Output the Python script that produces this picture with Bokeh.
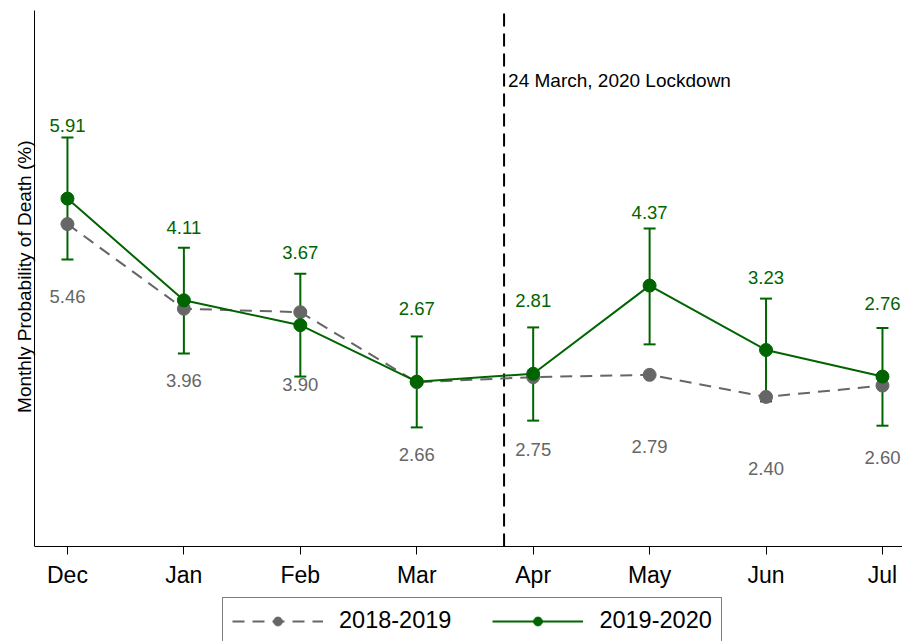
from bokeh.plotting import figure
from bokeh.models import (ColumnDataSource, Whisker, TeeHead, Label, Legend,
                          LegendItem, FixedTicker, Range1d, Title)
from bokeh.core.properties import value
from bokeh.embed import file_html
from bokeh.resources import INLINE

months = ["Dec", "Jan", "Feb", "Mar", "Apr", "May", "Jun", "Jul"]
idx = list(range(len(months)))
p1819 = [5.46, 3.96, 3.90, 2.66, 2.75, 2.79, 2.40, 2.60]
p1920 = [5.91, 4.11, 3.67, 2.67, 2.81, 4.37, 3.23, 2.76]
ci_lower = [4.83, 3.17, 2.76, 1.86, 1.98, 3.33, 2.32, 1.89]
ci_upper = [6.99, 5.04, 4.58, 3.47, 3.63, 5.38, 4.14, 3.62]
lockdown_x = [3.75]  # 24 March, between Mar and Apr
lockdown_text = "24 March, 2020 Lockdown"
lockdown_y = 8.0
y_title = "Monthly Probability of Death (%)"

# axis extents (value units)
Y_AXIS_LO, Y_AXIS_HI = -0.248, 9.24
Y_VIEW_LO = -1.93     # extra room below the axis for the tick labels & legend

FONT = "Liberation Sans"
GREEN = "#006400"
GRAY = "#666666"

src = ColumnDataSource(dict(
    x=idx, a=p1819, b=p1920, lo=ci_lower, hi=ci_upper,
    ta=[f"{v:.2f}" for v in p1819], tb=[f"{v:.2f}" for v in p1920],
))

p = figure(frame_width=868, frame_height=631, output_backend="svg", toolbar_location=None,
           x_range=Range1d(-0.283, 7.172), y_range=Range1d(Y_VIEW_LO, Y_AXIS_HI),
           min_border_left=34, min_border_right=0, min_border_top=10, min_border_bottom=0)
p.outline_line_color = None
p.xgrid.visible = False
p.ygrid.visible = False
p.background_fill_color = "white"
p.border_fill_color = "white"

# x axis (drawn at the bottom of the value area)
p.xaxis.fixed_location = Y_AXIS_LO
p.xaxis.ticker = FixedTicker(ticks=idx)
p.xaxis.major_label_overrides = {i: m for i, m in enumerate(months)}
p.xaxis.major_label_text_font = FONT
p.xaxis.major_label_text_font_size = "23px"
p.xaxis.major_label_text_color = "black"
p.xaxis.major_tick_out = 8
p.xaxis.major_tick_in = 0
p.xaxis.minor_tick_out = 0
p.xaxis.minor_tick_in = 0
p.xaxis.major_label_standoff = 8
p.xaxis.axis_line_color = "black"
p.xaxis.major_tick_line_color = "black"

# y axis: line only, spanning the value area
p.yaxis.bounds = (Y_AXIS_LO, Y_AXIS_HI)
p.yaxis.ticker = FixedTicker(ticks=[])
p.yaxis.major_tick_out = 0
p.yaxis.major_tick_in = 0
p.yaxis.minor_tick_out = 0
p.yaxis.minor_tick_in = 0
p.yaxis.major_label_standoff = 0
p.yaxis.major_label_text_font_size = "0px"
p.yaxis.axis_line_color = "black"

# y axis title, centred on the value area
p.add_layout(Title(text=y_title, align="right", offset=130, text_font=FONT,
                   text_font_size="19px", text_font_style="normal",
                   text_color="black", standoff=0), "left")

# lockdown line
p.segment(x0=lockdown_x, y0=[Y_AXIS_LO], x1=lockdown_x, y1=[Y_AXIS_HI],
          line_color="black", line_width=2, line_dash="13 7")
p.add_layout(Label(x=lockdown_x[0], y=lockdown_y, text=lockdown_text, x_offset=4,
                   text_baseline="middle", text_font=FONT, text_font_size="19px",
                   text_color="black"))

# error bars
wh = Whisker(source=src, base="x", lower="lo", upper="hi", dimension="height",
             line_color=GREEN, line_width=2,
             upper_head=TeeHead(size=12, line_color=GREEN, line_width=2),
             lower_head=TeeHead(size=12, line_color=GREEN, line_width=2))
p.add_layout(wh)

la = p.line("x", "a", source=src, line_color=GRAY, line_width=2, line_dash="12 8")
sa = p.scatter("x", "a", source=src, size=13, fill_color=GRAY, line_color=GRAY)
lb = p.line("x", "b", source=src, line_color=GREEN, line_width=2)
sb = p.scatter("x", "b", source=src, size=13, fill_color=GREEN, line_color=GREEN)

p.text("x", "b", text="tb", source=src, y_offset=-73, text_align="center",
       text_baseline="middle", text_font=value(FONT), text_font_size="18.5px",
       text_color=GREEN)
p.text("x", "a", text="ta", source=src, y_offset=72, text_align="center",
       text_baseline="middle", text_font=value(FONT), text_font_size="18.5px",
       text_color=GRAY)

legend = Legend(items=[LegendItem(label="2018-2019", renderers=[la, sa]),
                       LegendItem(label="2019-2020", renderers=[lb, sb])],
                orientation="horizontal", location=(188, -3),
                label_text_font=FONT, label_text_font_size="23.5px",
                label_text_color="black", glyph_width=91, glyph_height=22,
                label_standoff=16, spacing=41, padding=9, margin=0,
                border_line_color="black", border_line_width=1,
                background_fill_alpha=1.0)
p.add_layout(legend, "center")

open("out.html", "w").write(file_html(p, INLINE))
